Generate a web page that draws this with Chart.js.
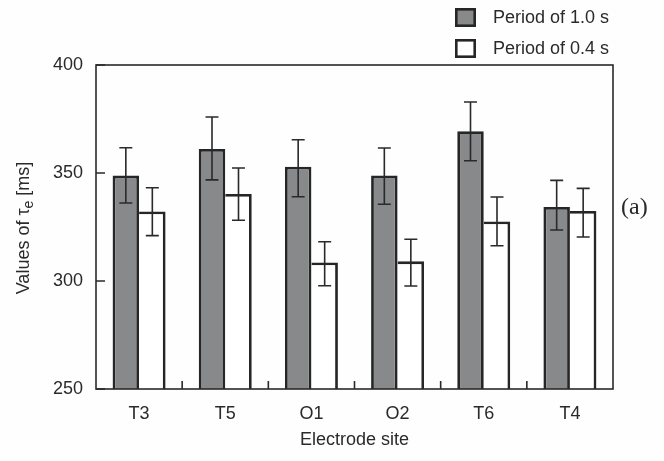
<!DOCTYPE html>
<html>
<head>
<meta charset="utf-8">
<script src="https://cdn.jsdelivr.net/npm/chart.js@4/dist/chart.umd.min.js"></script>
<style>
  html, body { margin: 0; padding: 0; background: #fefefe; }
  #c { display: block; }
</style>
</head>
<body>
<canvas id="c" width="664" height="461"></canvas>
<script>
// ---- data ----
const categories = ['T3', 'T5', 'O1', 'O2', 'T6', 'T4'];
const period10 = [348.8, 361.1, 352.9, 348.8, 369.3, 334.3];
const period10Hi = [361.7, 375.9, 365.4, 361.6, 382.9, 346.6];
const period10Lo = [336.1, 346.8, 339.0, 335.5, 355.7, 323.6];
const period04 = [332.2, 340.3, 308.6, 309.1, 327.6, 332.4];
const period04Hi = [343.2, 352.3, 318.2, 319.3, 338.9, 342.9];
const period04Lo = [321.0, 328.1, 297.8, 297.7, 316.3, 320.4];
const yTicks = [250, 300, 350, 400];
const seriesNames = ['Period of 1.0 s', 'Period of 0.4 s'];

const FONT = '"Liberation Sans", Arial, sans-serif';
const INK = '#2a2a2a';
const GRAY = '#88898b';

const errData = [[period10Lo, period10Hi], [period04Lo, period04Hi]];

const decorPlugin = {
  id: 'decor',
  afterDatasetsDraw(chart) {
    const ctx = chart.ctx;
    const y = chart.scales.y;
    ctx.save();
    ctx.strokeStyle = INK;
    ctx.lineWidth = 1.6;
    chart.data.datasets.forEach((ds, di) => {
      const meta = chart.getDatasetMeta(di);
      meta.data.forEach((el, i) => {
        const x = el.x;
        const yl = y.getPixelForValue(errData[di][0][i]);
        const yh = y.getPixelForValue(errData[di][1][i]);
        ctx.beginPath();
        ctx.moveTo(x, yl); ctx.lineTo(x, yh);
        ctx.moveTo(x - 6.5, yh); ctx.lineTo(x + 6.5, yh);
        ctx.moveTo(x - 6.5, yl); ctx.lineTo(x + 6.5, yl);
        ctx.stroke();
      });
    });
    ctx.restore();
  },
  afterDraw(chart) {
    const ctx = chart.ctx;
    const a = chart.chartArea;
    const y = chart.scales.y;
    const x = chart.scales.x;
    ctx.save();
    // frame
    ctx.strokeStyle = INK;
    ctx.lineWidth = 1.6;
    ctx.strokeRect(a.left, a.top, a.right - a.left, a.bottom - a.top);
    // inward y tick marks
    ctx.beginPath();
    yTicks.forEach(v => {
      const py = y.getPixelForValue(v);
      ctx.moveTo(a.left, py); ctx.lineTo(a.left + 9, py);
    });
    // inward x tick marks at category boundaries
    for (let i = 1; i < categories.length; i++) {
      const px = (x.getPixelForValue(i - 1) + x.getPixelForValue(i)) / 2;
      ctx.moveTo(px, a.bottom); ctx.lineTo(px, a.bottom - 8);
    }
    ctx.stroke();

    // y-axis title with subscript
    ctx.save();
    ctx.translate(24, 228);
    ctx.rotate(-Math.PI / 2);
    ctx.fillStyle = INK;
    ctx.textBaseline = 'middle';
    const big = '18px ' + FONT, small = '14px ' + FONT;
    const parts = [['Values of τ', big, 0], ['e', small, 5], [' [ms]', big, 0]];
    let total = 0;
    parts.forEach(p => { ctx.font = p[1]; total += ctx.measureText(p[0]).width; });
    let cx = -total / 2;
    parts.forEach(p => {
      ctx.font = p[1];
      ctx.textAlign = 'left';
      ctx.fillText(p[0], cx, p[2]);
      cx += ctx.measureText(p[0]).width;
    });
    ctx.restore();

    // legend
    const colors = [GRAY, '#ffffff'];
    const tops = [8, 39];
    ctx.font = '18px ' + FONT;
    ctx.textBaseline = 'middle';
    ctx.textAlign = 'left';
    seriesNames.forEach((name, i) => {
      ctx.fillStyle = colors[i];
      ctx.fillRect(455, tops[i], 21, 19);
      ctx.lineWidth = 2.6;
      ctx.strokeStyle = '#262626';
      ctx.strokeRect(455 + 1.3, tops[i] + 1.3, 21 - 2.6, 19 - 2.6);
      ctx.fillStyle = INK;
      ctx.fillText(name, 493, tops[i] + 10);
    });

    // panel label
    ctx.font = '24px "Liberation Serif", "Times New Roman", serif';
    ctx.fillStyle = INK;
    ctx.fillText('(a)', 621, 208);
    ctx.restore();
  }
};

new Chart(document.getElementById('c'), {
  type: 'bar',
  data: {
    labels: categories,
    datasets: [
      {
        label: seriesNames[0],
        data: period10,
        backgroundColor: GRAY,
        borderColor: '#262626',
        borderWidth: 2.8,
        borderSkipped: 'start'
      },
      {
        label: seriesNames[1],
        data: period04,
        backgroundColor: '#ffffff',
        borderColor: '#262626',
        borderWidth: { top: 2.8, right: 2.8, left: 0, bottom: 0 },
        borderSkipped: false
      }
    ]
  },
  options: {
    responsive: false,
    animation: false,
    devicePixelRatio: 1,
    layout: { padding: { top: 65, right: 51, left: 0, bottom: 0 } },
    datasets: { bar: { categoryPercentage: 0.615, barPercentage: 1.0 } },
    plugins: {
      legend: { display: false },
      tooltip: { enabled: false },
      title: { display: false }
    },
    scales: {
      x: {
        grid: { display: false, drawTicks: false },
        border: { display: false },
        ticks: { font: { size: 18, family: FONT }, color: INK, padding: 14 },
        title: {
          display: true, text: 'Electrode site',
          font: { size: 18, family: FONT }, color: INK,
          padding: { top: 0, bottom: 10 }
        },
        afterFit(s) { s.height = 72; }
      },
      y: {
        min: 250, max: 400,
        afterBuildTicks(s) { s.ticks = yTicks.map(v => ({ value: v })); },
        grid: { display: false, drawTicks: false },
        border: { display: false },
        ticks: { font: { size: 18, family: FONT }, color: INK, padding: 13 },
        afterFit(s) { s.width = 96; }
      }
    }
  },
  plugins: [decorPlugin]
});
</script>
</body>
</html>
